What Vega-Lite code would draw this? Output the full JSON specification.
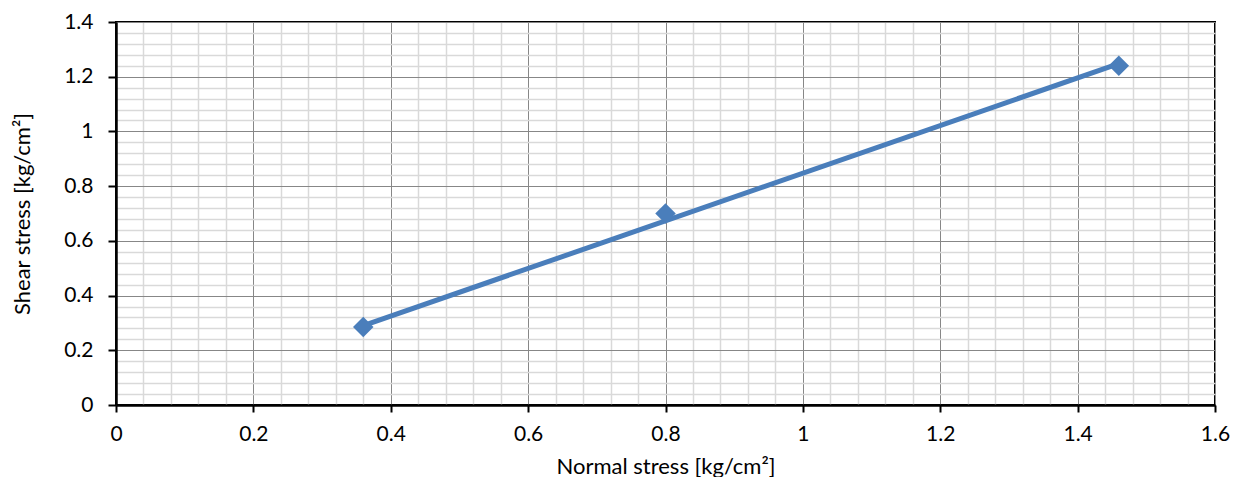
{
  "$schema": "https://vega.github.io/schema/vega-lite/v6.json",
  "width": 1099,
  "height": 383,
  "autosize": {"type": "none"},
  "padding": {"left": 116, "top": 22, "right": 18, "bottom": 72},
  "background": "white",
  "config": {
    "view": {"stroke": "black", "strokeWidth": 2},
    "font": "Lato",
    "axis": {"labelFont": "Lato", "titleFont": "Lato", "labelFontSize": 21, "titleFontSize": 22, "labelColor": "black", "titleColor": "black", "titleFontWeight": "normal", "labelFlush": false, "labelOverlap": false}
  },
  "datasets": {
    "obs": [
      {"normal": 0.36, "shear": 0.285},
      {"normal": 0.8, "shear": 0.7},
      {"normal": 1.46, "shear": 1.24}
    ],
    "trend": [
      {"normal": 0.36, "shear": 0.29},
      {"normal": 1.46, "shear": 1.248}
    ]
  },
  "resolve": {"axis": {"x": "independent", "y": "independent"}},
  "layer": [
    {
      "data": {"name": "trend"},
      "mark": {"type": "line", "color": "#4A7EBB", "strokeWidth": 5, "strokeCap": "round"},
      "encoding": {
        "x": {"field": "normal", "type": "quantitative", "scale": {"domain": [0, 1.6], "nice": false},
          "axis": {"orient": "bottom", "title": null, "labels": false, "ticks": false, "domain": false, "grid": true, "gridColor": "#d9d9d9", "gridWidth": 1.5,
            "values": [0.04,0.08,0.12,0.16,0.24,0.28,0.32,0.36,0.44,0.48,0.52,0.56,0.64,0.68,0.72,0.76,0.84,0.88,0.92,0.96,1.04,1.08,1.12,1.16,1.24,1.28,1.32,1.36,1.44,1.48,1.52,1.56]}},
        "y": {"field": "shear", "type": "quantitative", "scale": {"domain": [0, 1.4], "nice": false},
          "axis": {"orient": "left", "title": null, "labels": false, "ticks": false, "domain": false, "grid": true, "gridColor": "#d9d9d9", "gridWidth": 1.5,
            "values": [0.04,0.08,0.12,0.16,0.24,0.28,0.32,0.36,0.44,0.48,0.52,0.56,0.64,0.68,0.72,0.76,0.84,0.88,0.92,0.96,1.04,1.08,1.12,1.16,1.24,1.28,1.32,1.36]}}
      }
    },
    {
      "data": {"name": "obs"},
      "mark": {"type": "point", "shape": "diamond", "filled": true, "opacity": 1, "size": 420, "color": "#4A7EBB"},
      "encoding": {
        "x": {"field": "normal", "type": "quantitative", "scale": {"domain": [0, 1.6], "nice": false},
          "axis": {"orient": "bottom", "title": "Normal stress [kg/cm²]", "values": [0,0.2,0.4,0.6,0.8,1,1.2,1.4,1.6], "format": "~g",
            "grid": true, "gridColor": "#878787", "gridWidth": 1, "domainColor": "black", "domainWidth": 2.5, "tickColor": "black", "tickWidth": 2, "tickSize": 7, "labelPadding": 11, "titlePadding": 12}},
        "y": {"field": "shear", "type": "quantitative", "scale": {"domain": [0, 1.4], "nice": false},
          "axis": {"orient": "left", "title": "Shear stress [kg/cm²]", "values": [0,0.2,0.4,0.6,0.8,1,1.2,1.4], "format": "~g",
            "grid": true, "gridColor": "#878787", "gridWidth": 1, "domainColor": "black", "domainWidth": 2.5, "tickColor": "black", "tickWidth": 2, "tickSize": 8, "labelPadding": 15, "titlePadding": 29}}
      }
    }
  ]
}
